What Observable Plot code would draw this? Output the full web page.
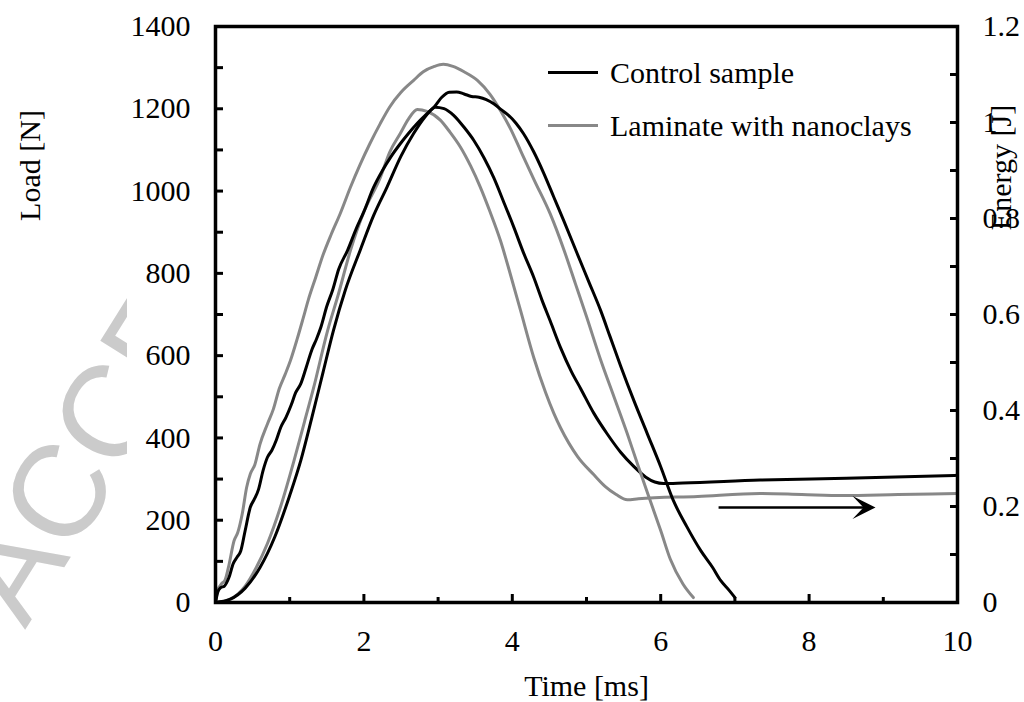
<!DOCTYPE html>
<html>
<head>
<meta charset="utf-8">
<script src="https://cdn.jsdelivr.net/npm/d3@7"></script>
<script src="https://cdn.jsdelivr.net/npm/@observablehq/plot@0.6"></script>
<style>
  body { margin: 0; background: #fff; }
  #wrap { position: relative; width: 1024px; height: 702px; overflow: hidden; font-family: "Liberation Serif", "Times New Roman", serif; }
  #wm { position: absolute; left: 0; top: 0; width: 127px; height: 702px; overflow: hidden; pointer-events: none; }
  #legend { position: absolute; left: 548px; top: 46px; font-size: 30px; color: #000; }
  #legend .row { display: flex; align-items: center; height: 53px; line-height: 1; white-space: nowrap; }
  #legend .sw { width: 50px; height: 3px; margin-right: 12px; }
</style>
</head>
<body>
<div id="wrap">
  <div id="plot"></div>
  <svg id="wm" width="127" height="702" viewBox="0 0 127 702">
    <text x="25" y="630" transform="rotate(-58 25 630)" font-family="Liberation Sans, Arial, sans-serif" font-size="130" fill="#cbcbcb">ACCEPTED</text>
  </svg>
  <div id="legend"></div>
</div>
<script>
// ---- Series (time in ms) ----
const controlLoadT = [0,0.03,0.07,0.12,0.18,0.24,0.29,0.34,0.40,0.47,0.52,0.58,0.64,0.70,0.76,0.82,0.88,0.95,1.02,1.08,1.15,1.22,1.30,1.36,1.42,1.50,1.58,1.66,1.78,1.90,2.00,2.13,2.25,2.37,2.49,2.60,2.72,2.85,2.95,3.05,3.15,3.25,3.35,3.45,3.55,3.65,3.75,3.85,3.95,4.05,4.15,4.29,4.42,4.56,4.70,4.87,5.03,5.19,5.32,5.46,5.64,5.82,6.00,6.17,6.35,6.54,6.70,6.81,6.92,7.00];
const controlLoadN = [0,25,36,40,60,95,110,125,175,232,250,275,320,353,370,395,426,450,480,510,532,570,615,640,669,720,760,810,856,910,950,1009,1050,1085,1115,1140,1165,1188,1205,1228,1240,1241,1236,1230,1228,1222,1212,1198,1184,1165,1140,1095,1045,985,925,850,780,710,645,575,490,410,330,248,185,126,85,53,30,12];

const nanoLoadT = [0,0.03,0.08,0.13,0.18,0.25,0.30,0.36,0.42,0.47,0.53,0.60,0.70,0.78,0.86,0.94,1.01,1.10,1.18,1.25,1.35,1.45,1.56,1.68,1.82,1.95,2.08,2.22,2.35,2.50,2.67,2.80,2.95,3.07,3.20,3.35,3.53,3.70,3.84,3.98,4.11,4.30,4.51,4.70,4.85,5.00,5.19,5.37,5.55,5.70,5.85,6.00,6.13,6.30,6.44];
const nanoLoadN = [0,30,45,55,90,150,170,215,280,313,335,385,434,470,520,555,588,640,690,735,790,845,895,945,1010,1065,1115,1164,1205,1240,1269,1290,1303,1308,1303,1290,1269,1235,1196,1150,1099,1025,945,855,775,695,590,500,410,330,252,175,105,45,12];

const controlEnergyT = [0,0.2,0.4,0.6,0.8,1.0,1.15,1.3,1.45,1.59,1.75,1.95,2.13,2.31,2.50,2.67,2.82,2.96,3.08,3.21,3.35,3.48,3.62,3.75,3.88,4.02,4.15,4.29,4.40,4.51,4.65,4.80,4.92,5.10,5.28,5.46,5.64,5.80,5.92,6.04,6.3,7.34,8.5,10];
const controlEnergyJ = [0,0.007,0.030,0.073,0.137,0.223,0.296,0.386,0.480,0.567,0.651,0.734,0.806,0.865,0.930,0.977,1.011,1.032,1.029,1.015,0.990,0.963,0.926,0.885,0.836,0.782,0.729,0.677,0.630,0.587,0.531,0.480,0.446,0.394,0.351,0.313,0.283,0.261,0.251,0.248,0.249,0.255,0.259,0.265];

const nanoEnergyT = [0,0.2,0.4,0.55,0.7,0.88,1.05,1.2,1.32,1.51,1.65,1.82,2.0,2.22,2.35,2.49,2.60,2.72,2.85,3.03,3.16,3.30,3.44,3.57,3.70,3.84,3.97,4.11,4.29,4.45,4.56,4.65,4.88,5.10,5.25,5.40,5.55,5.7,6.5,7.34,7.9,8.46,9.2,10];
const nanoEnergyJ = [0,0.007,0.034,0.073,0.123,0.201,0.291,0.377,0.446,0.566,0.639,0.734,0.814,0.885,0.939,0.977,1.007,1.027,1.023,1.005,0.980,0.949,0.909,0.865,0.814,0.754,0.686,0.609,0.510,0.437,0.394,0.364,0.304,0.266,0.242,0.225,0.214,0.216,0.221,0.227,0.225,0.223,0.225,0.227];

// ---- Axes ----
const xMajor = [0,2,4,6,8,10];
const xMinor = [1,3,5,7,9];
const loadMajor = [0,200,400,600,800,1000,1200,1400];
const loadMinor = [100,300,500,700,900,1100,1300];
const energyMajor = [0,0.2,0.4,0.6,0.8,1.0,1.2];
const energyMinor = [0.1,0.3,0.5,0.7,0.9,1.1];

// ---- Legend / annotation ----
const seriesNames = ["Control sample", "Laminate with nanoclays"];
const seriesColors = ["#000000", "#888888"];
const arrowSpan = [{t1: 6.78, t2: 8.74, tip: 8.895, e: 0.198}];

const LOAD_MAX = 1400, ENERGY_MAX = 1.2;
const toL = e => e * LOAD_MAX / ENERGY_MAX;
const zip = (ts, vs) => ts.map((t, i) => ({t, v: vs[i]}));

const controlLoad = zip(controlLoadT, controlLoadN);
const nanoLoad = zip(nanoLoadT, nanoLoadN);
const controlEnergy = zip(controlEnergyT, controlEnergyJ);
const nanoEnergy = zip(nanoEnergyT, nanoEnergyJ);

const arrowHead = {
  draw(ctx) {
    ctx.moveTo(0, 0);
    ctx.lineTo(-23, -11.5);
    ctx.lineTo(-12, 0);
    ctx.lineTo(-23, 11.5);
    ctx.closePath();
  }
};

const fmtE = v => String(Math.round(v * ENERGY_MAX / LOAD_MAX * 10) / 10);
const lineOpts = {curve: "monotone-x", strokeWidth: 3, strokeLinejoin: "round"};

const chart = Plot.plot({
  width: 1024,
  height: 702,
  marginLeft: 215,
  marginRight: 67,
  marginTop: 26,
  marginBottom: 100,
  style: {fontFamily: "'Liberation Serif', 'Times New Roman', serif", fontSize: "30px", background: "white", color: "black", overflow: "visible"},
  x: {domain: [0, 10]},
  y: {domain: [0, LOAD_MAX]},
  marks: [
    Plot.line(nanoEnergy, {x: "t", y: d => toL(d.v), stroke: seriesColors[1], ...lineOpts}),
    Plot.line(controlEnergy, {x: "t", y: d => toL(d.v), stroke: seriesColors[0], ...lineOpts}),
    Plot.line(nanoLoad, {x: "t", y: "v", stroke: seriesColors[1], ...lineOpts}),
    Plot.line(controlLoad, {x: "t", y: "v", stroke: seriesColors[0], ...lineOpts}),
    Plot.link(arrowSpan, {x1: "t1", x2: "t2", y1: d => toL(d.e), y2: d => toL(d.e), stroke: "black", strokeWidth: 2.5}),
    Plot.dot(arrowSpan, {x: "tip", y: d => toL(d.e), symbol: arrowHead, fill: "black", stroke: "none", r: 5}),
    Plot.frame({stroke: "black", strokeWidth: 3.5}),
    Plot.axisX({ticks: xMajor, tickSize: -8, tickPadding: 35, strokeWidth: 3, label: null, tickFormat: d => String(d)}),
    Plot.axisX({ticks: xMinor, tickSize: -5, strokeWidth: 3, label: null, tickFormat: () => ""}),
    Plot.axisY({ticks: loadMajor, tickSize: -8, tickPadding: 33, strokeWidth: 3, label: null, tickFormat: d => String(d)}),
    Plot.axisY({ticks: loadMinor, tickSize: -8, strokeWidth: 3, label: null, tickFormat: () => ""}),
    Plot.axisY({anchor: "right", ticks: energyMajor.map(toL), tickSize: -8, tickPadding: 33, strokeWidth: 3, label: null, tickFormat: fmtE}),
    Plot.axisY({anchor: "right", ticks: energyMinor.map(toL), tickSize: -8, strokeWidth: 3, label: null, tickFormat: () => ""}),
    Plot.text(["Time [ms]"], {text: d => d, frameAnchor: "bottom", textAnchor: "middle", lineAnchor: "middle", dy: 84}),
    Plot.text(["Load [N]"], {text: d => d, frameAnchor: "top-left", textAnchor: "middle", lineAnchor: "middle", dx: -185, dy: 139, rotate: -90}),
    Plot.text(["Energy [J]"], {text: d => d, frameAnchor: "top-right", textAnchor: "middle", lineAnchor: "middle", dx: 44, dy: 141, rotate: -90})
  ]
});
document.getElementById("plot").appendChild(chart);

const legend = document.getElementById("legend");
seriesNames.forEach((name, i) => {
  const row = document.createElement("div");
  row.className = "row";
  const sw = document.createElement("span");
  sw.className = "sw";
  sw.style.background = seriesColors[i];
  row.appendChild(sw);
  row.appendChild(document.createTextNode(name));
  legend.appendChild(row);
});
</script>
</body>
</html>
